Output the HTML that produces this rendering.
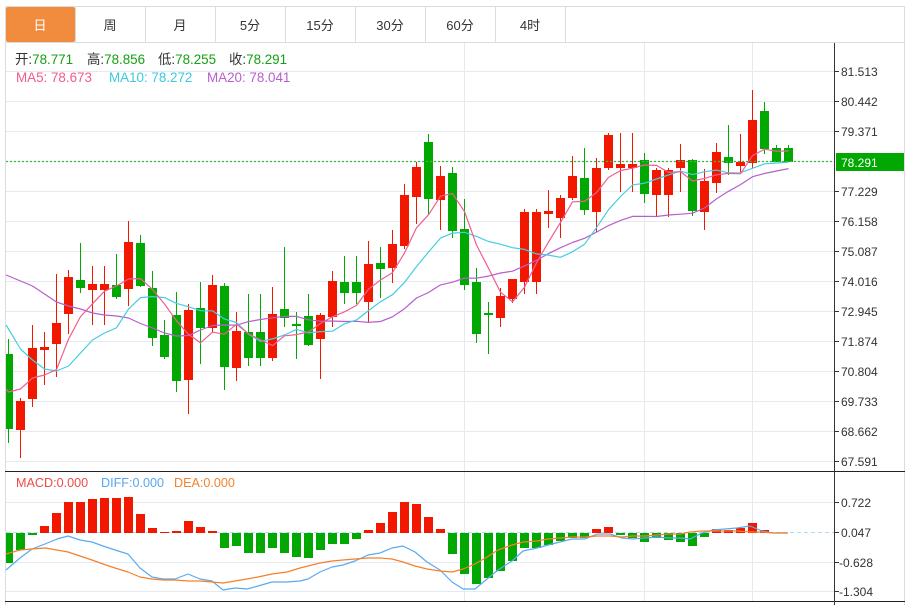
<!DOCTYPE html>
<html><head><meta charset="utf-8"><style>
html,body{margin:0;padding:0;background:#fff;}
svg{display:block;}
text{font-family:"Liberation Sans","Noto Sans CJK SC",sans-serif;}
.r{fill:#f21800;}
.g{fill:#02a802;}
.ax{font-size:12px;fill:#333;}
</style></head><body>
<svg width="910" height="605" viewBox="0 0 910 605" xmlns="http://www.w3.org/2000/svg">
<rect x="0" y="0" width="910" height="605" fill="#fff"/>
<!-- frame -->
<line x1="5" y1="6.5" x2="905" y2="6.5" stroke="#dcdcdc"/>
<line x1="5.5" y1="6" x2="5.5" y2="605" stroke="#dcdcdc"/>
<line x1="904.5" y1="6" x2="904.5" y2="605" stroke="#dcdcdc"/>
<line x1="5" y1="42.5" x2="905" y2="42.5" stroke="#dcdcdc"/>
<!-- tabs -->
<rect x="6" y="7" width="69" height="35" rx="2" fill="#f18c3e"/>
<g stroke="#dcdcdc">
<line x1="75.5" y1="7" x2="75.5" y2="42"/><line x1="145.5" y1="7" x2="145.5" y2="42"/>
<line x1="215.5" y1="7" x2="215.5" y2="42"/><line x1="285.5" y1="7" x2="285.5" y2="42"/>
<line x1="355.5" y1="7" x2="355.5" y2="42"/><line x1="425.5" y1="7" x2="425.5" y2="42"/>
<line x1="495.5" y1="7" x2="495.5" y2="42"/><line x1="565.5" y1="7" x2="565.5" y2="42"/>
</g>
<g font-size="13" text-anchor="middle" fill="#333">
<text x="40" y="30" fill="#fff">日</text>
<text x="110" y="30">周</text>
<text x="180" y="30">月</text>
<text x="250" y="30">5分</text>
<text x="320" y="30">15分</text>
<text x="390" y="30">30分</text>
<text x="460" y="30">60分</text>
<text x="530" y="30">4时</text>
</g>
<!-- grid -->
<g stroke="#e4eaf0" stroke-width="1">
<line x1="6" y1="71.5" x2="834" y2="71.5"/><line x1="6" y1="101.5" x2="834" y2="101.5"/>
<line x1="6" y1="131.5" x2="834" y2="131.5"/><line x1="6" y1="161.5" x2="834" y2="161.5"/>
<line x1="6" y1="191.5" x2="834" y2="191.5"/><line x1="6" y1="221.5" x2="834" y2="221.5"/>
<line x1="6" y1="251.5" x2="834" y2="251.5"/><line x1="6" y1="281.5" x2="834" y2="281.5"/>
<line x1="6" y1="311.5" x2="834" y2="311.5"/><line x1="6" y1="341.5" x2="834" y2="341.5"/>
<line x1="6" y1="371.5" x2="834" y2="371.5"/><line x1="6" y1="401.5" x2="834" y2="401.5"/>
<line x1="6" y1="431.5" x2="834" y2="431.5"/><line x1="6" y1="461.5" x2="834" y2="461.5"/>
<line x1="6" y1="502.5" x2="834" y2="502.5"/><line x1="6" y1="562.5" x2="834" y2="562.5"/>
<line x1="6" y1="591.5" x2="834" y2="591.5"/>
<line x1="464.5" y1="43" x2="464.5" y2="601"/><line x1="644.5" y1="43" x2="644.5" y2="601"/>
<line x1="752.5" y1="43" x2="752.5" y2="601"/>
</g>
<!-- header text -->
<g font-size="13.4">
<text x="15" y="64"><tspan fill="#333">开:</tspan><tspan fill="#14a014">78.771</tspan></text>
<text x="87" y="64"><tspan fill="#333">高:</tspan><tspan fill="#14a014">78.856</tspan></text>
<text x="158" y="64"><tspan fill="#333">低:</tspan><tspan fill="#14a014">78.255</tspan></text>
<text x="229" y="64"><tspan fill="#333">收:</tspan><tspan fill="#14a014">78.291</tspan></text>
<text x="16" y="82" fill="#ef5a8f">MA5: 78.673</text>
<text x="109" y="82" fill="#3cc8de">MA10: 78.272</text>
<text x="207" y="82" fill="#b75fcc">MA20: 78.041</text>
</g>
<!-- candles -->
<g>
<rect class="g" x="8" y="339" width="1" height="104"/><rect class="g" x="6" y="354" width="7" height="75"/>
<rect class="r" x="20" y="398" width="1" height="60"/><rect class="r" x="16" y="401" width="9" height="29"/>
<rect class="r" x="32" y="325" width="1" height="82"/><rect class="r" x="28" y="348" width="9" height="51"/>
<rect class="r" x="44" y="332" width="1" height="53"/><rect class="r" x="40" y="347" width="9" height="3"/>
<rect class="r" x="56" y="274" width="1" height="103"/><rect class="r" x="52" y="323" width="9" height="21"/>
<rect class="r" x="68" y="270" width="1" height="64"/><rect class="r" x="64" y="277" width="9" height="37"/>
<rect class="g" x="80" y="243" width="1" height="50"/><rect class="g" x="76" y="280" width="9" height="8"/>
<rect class="r" x="92" y="266" width="1" height="59"/><rect class="r" x="88" y="284" width="9" height="6"/>
<rect class="r" x="104" y="266" width="1" height="59"/><rect class="r" x="100" y="284" width="9" height="6"/>
<rect class="g" x="116" y="254" width="1" height="45"/><rect class="g" x="112" y="285" width="9" height="12"/>
<rect class="r" x="128" y="221" width="1" height="85"/><rect class="r" x="124" y="242" width="9" height="47"/>
<rect class="g" x="140" y="235" width="1" height="52"/><rect class="g" x="136" y="243" width="9" height="43"/>
<rect class="g" x="152" y="271" width="1" height="75"/><rect class="g" x="148" y="288" width="9" height="50"/>
<rect class="g" x="164" y="320" width="1" height="39"/><rect class="g" x="160" y="335" width="9" height="22"/>
<rect class="g" x="176" y="292" width="1" height="100"/><rect class="g" x="172" y="315" width="9" height="66"/>
<rect class="r" x="188" y="304" width="1" height="110"/><rect class="r" x="184" y="310" width="9" height="70"/>
<rect class="g" x="200" y="282" width="1" height="82"/><rect class="g" x="196" y="308" width="9" height="20"/>
<rect class="r" x="212" y="275" width="1" height="57"/><rect class="r" x="208" y="285" width="9" height="43"/>
<rect class="g" x="224" y="283" width="1" height="107"/><rect class="g" x="220" y="286" width="9" height="81"/>
<rect class="r" x="236" y="312" width="1" height="69"/><rect class="r" x="232" y="331" width="9" height="37"/>
<rect class="g" x="248" y="294" width="1" height="72"/><rect class="g" x="244" y="332" width="9" height="26"/>
<rect class="g" x="260" y="294" width="1" height="72"/><rect class="g" x="256" y="332" width="9" height="26"/>
<rect class="r" x="272" y="287" width="1" height="74"/><rect class="r" x="268" y="314" width="9" height="44"/>
<rect class="g" x="284" y="247" width="1" height="80"/><rect class="g" x="280" y="309" width="9" height="9"/>
<rect class="g" x="296" y="312" width="1" height="47"/><rect class="g" x="292" y="324" width="9" height="2"/>
<rect class="g" x="308" y="294" width="1" height="52"/><rect class="g" x="304" y="316" width="9" height="29"/>
<rect class="r" x="320" y="313" width="1" height="66"/><rect class="r" x="316" y="315" width="9" height="24"/>
<rect class="r" x="332" y="271" width="1" height="56"/><rect class="r" x="328" y="281" width="9" height="36"/>
<rect class="g" x="344" y="256" width="1" height="48"/><rect class="g" x="340" y="282" width="9" height="11"/>
<rect class="g" x="356" y="256" width="1" height="48"/><rect class="g" x="352" y="282" width="9" height="11"/>
<rect class="r" x="368" y="241" width="1" height="81"/><rect class="r" x="364" y="264" width="9" height="38"/>
<rect class="g" x="380" y="247" width="1" height="51"/><rect class="g" x="376" y="263" width="9" height="6"/>
<rect class="r" x="392" y="230" width="1" height="53"/><rect class="r" x="388" y="244" width="9" height="24"/>
<rect class="r" x="404" y="184" width="1" height="65"/><rect class="r" x="400" y="195" width="9" height="51"/>
<rect class="r" x="416" y="162" width="1" height="62"/><rect class="r" x="412" y="167" width="9" height="30"/>
<rect class="g" x="428" y="134" width="1" height="80"/><rect class="g" x="424" y="142" width="9" height="57"/>
<rect class="r" x="440" y="166" width="1" height="64"/><rect class="r" x="436" y="176" width="9" height="24"/>
<rect class="g" x="452" y="167" width="1" height="71"/><rect class="g" x="448" y="173" width="9" height="58"/>
<rect class="g" x="464" y="199" width="1" height="91"/><rect class="g" x="460" y="229" width="9" height="56"/>
<rect class="g" x="476" y="268" width="1" height="75"/><rect class="g" x="472" y="282" width="9" height="52"/>
<rect class="g" x="488" y="302" width="1" height="52"/><rect class="g" x="484" y="313" width="9" height="2"/>
<rect class="r" x="500" y="288" width="1" height="39"/><rect class="r" x="496" y="296" width="9" height="22"/>
<rect class="r" x="512" y="279" width="1" height="24"/><rect class="r" x="508" y="279" width="9" height="20"/>
<rect class="r" x="524" y="209" width="1" height="85"/><rect class="r" x="520" y="212" width="9" height="70"/>
<rect class="r" x="536" y="209" width="1" height="85"/><rect class="r" x="532" y="212" width="9" height="70"/>
<rect class="r" x="548" y="190" width="1" height="38"/><rect class="r" x="544" y="211" width="9" height="3"/>
<rect class="r" x="560" y="195" width="1" height="43"/><rect class="r" x="556" y="198" width="9" height="20"/>
<rect class="r" x="572" y="156" width="1" height="44"/><rect class="r" x="568" y="176" width="9" height="22"/>
<rect class="g" x="584" y="148" width="1" height="67"/><rect class="g" x="580" y="178" width="9" height="32"/>
<rect class="r" x="596" y="158" width="1" height="74"/><rect class="r" x="592" y="168" width="9" height="44"/>
<rect class="r" x="608" y="133" width="1" height="37"/><rect class="r" x="604" y="135" width="9" height="33"/>
<rect class="r" x="620" y="133" width="1" height="59"/><rect class="r" x="616" y="164" width="9" height="4"/>
<rect class="r" x="632" y="133" width="1" height="59"/><rect class="r" x="628" y="164" width="9" height="4"/>
<rect class="g" x="644" y="153" width="1" height="50"/><rect class="g" x="640" y="160" width="9" height="34"/>
<rect class="r" x="656" y="168" width="1" height="48"/><rect class="r" x="652" y="170" width="9" height="25"/>
<rect class="r" x="668" y="168" width="1" height="49"/><rect class="r" x="664" y="170" width="9" height="25"/>
<rect class="r" x="680" y="144" width="1" height="48"/><rect class="r" x="676" y="160" width="9" height="8"/>
<rect class="g" x="692" y="159" width="1" height="57"/><rect class="g" x="688" y="160" width="9" height="51"/>
<rect class="r" x="704" y="169" width="1" height="61"/><rect class="r" x="700" y="181" width="9" height="31"/>
<rect class="r" x="716" y="143" width="1" height="50"/><rect class="r" x="712" y="152" width="9" height="31"/>
<rect class="g" x="728" y="125" width="1" height="50"/><rect class="g" x="724" y="157" width="9" height="6"/>
<rect class="r" x="740" y="134" width="1" height="39"/><rect class="r" x="736" y="162" width="9" height="4"/>
<rect class="r" x="752" y="90" width="1" height="78"/><rect class="r" x="748" y="120" width="9" height="43"/>
<rect class="g" x="764" y="102" width="1" height="52"/><rect class="g" x="760" y="111" width="9" height="38"/>
<rect class="g" x="776" y="145" width="1" height="17"/><rect class="g" x="772" y="148" width="9" height="14"/>
<rect class="g" x="788" y="145" width="1" height="17"/><rect class="g" x="784" y="148" width="9" height="14"/>
</g>
<!-- MA lines -->
<g fill="none" stroke-width="1.2" stroke-linejoin="round">
<polyline stroke="#b75fcc" points="6,275 8.5,276 20.5,281 32.5,286 44.5,294 56.5,302 68.5,306 80.5,309 92.5,313 104.5,315 116.5,316 128.5,318 140.5,323.5 152.5,328 164.5,333 176.5,336 188.5,335.5 200.5,330 212.5,325.5 224.5,325 236.5,325.2 248.5,321.6 260.5,319.5 272.5,317.8 284.5,316.3 296.5,316.4 308.5,319.8 320.5,321.2 332.5,321 344.5,321.5 356.5,321.3 368.5,322.4 380.5,321.5 392.5,316.8 404.5,308.7 416.5,298 428.5,292.5 440.5,284.9 452.5,282.2 464.5,278.1 476.5,278.2 488.5,276.1 500.5,273 512.5,271.2 524.5,265.9 536.5,260.3 548.5,253.6 560.5,247.7 572.5,242.5 584.5,238.3 596.5,232.1 608.5,225.6 620.5,220.4 632.5,216.4 644.5,216.3 656.5,216.5 668.5,215 680.5,214.2 692.5,213.2 704.5,208 716.5,198.9 728.5,191.3 740.5,184.6 752.5,176.7 764.5,173.5 776.5,171 788.5,168.6"/>
<polyline stroke="#45cde2" points="6,325 8.5,329 20.5,349 32.5,360 44.5,369 56.5,371 68.5,366 80.5,353 92.5,340 104.5,333 116.5,327.8 128.5,309.1 140.5,297.6 152.5,296.6 164.5,297.6 176.5,303.4 188.5,306.7 200.5,310.7 212.5,310.8 224.5,319.1 236.5,322.5 248.5,334.1 260.5,341.3 272.5,338.9 284.5,335 296.5,329.4 308.5,332.9 320.5,331.6 332.5,331.2 344.5,323.8 356.5,320 368.5,310.6 380.5,301.7 392.5,294.7 404.5,282.4 416.5,266.6 428.5,252 440.5,238.1 452.5,233.1 464.5,232.3 476.5,236.4 488.5,241.5 500.5,244.2 512.5,247.7 524.5,249.4 536.5,253.9 548.5,255.1 560.5,257.3 572.5,251.8 584.5,244.3 596.5,227.7 608.5,209.7 620.5,196.5 632.5,185 644.5,183.2 656.5,179 668.5,174.9 680.5,171.1 692.5,174.6 704.5,171.7 716.5,170.1 728.5,172.9 740.5,172.7 752.5,168.3 764.5,163.8 776.5,163 788.5,162.2"/>
<polyline stroke="#ef5f92" points="6,389 8.5,392 20.5,389 32.5,378 44.5,375 56.5,369.6 68.5,339.2 80.5,316.6 92.5,303.8 104.5,291.2 116.5,286 128.5,279 140.5,278.6 152.5,289.4 164.5,304 176.5,320.8 188.5,334.4 200.5,342.8 212.5,332.2 224.5,334.2 236.5,324.2 248.5,333.8 260.5,339.8 272.5,345.6 284.5,335.8 296.5,334.6 308.5,332 320.5,323.4 332.5,316.8 344.5,311.8 356.5,305.4 368.5,289.2 380.5,280 392.5,272.6 404.5,253 416.5,227.8 428.5,214.8 440.5,196.2 452.5,193.6 464.5,211.6 476.5,245 488.5,268.2 500.5,292.2 512.5,301.8 524.5,287.2 536.5,262.8 548.5,242 560.5,222.4 572.5,201.8 584.5,201.4 596.5,192.6 608.5,177.4 620.5,170.6 632.5,168.2 644.5,165 656.5,165.4 668.5,172.4 680.5,171.6 692.5,181 704.5,178.4 716.5,174.8 728.5,173.4 740.5,173.8 752.5,155.6 764.5,149.2 776.5,151.2 788.5,151"/>
</g>
<!-- current price dotted -->
<line x1="6" y1="161.5" x2="834" y2="161.5" stroke="#3cb83c" stroke-width="1.3" stroke-dasharray="2,2"/>
<!-- MACD separators -->
<line x1="5" y1="471.5" x2="905" y2="471.5" stroke="#222"/>
<line x1="5" y1="601.5" x2="905" y2="601.5" stroke="#222"/>
<text x="16" y="487" font-size="12.6" fill="#ef4a4a">MACD:0.000</text>
<text x="101" y="487" font-size="12.6" fill="#55a8f0">DIFF:0.000</text>
<text x="174" y="487" font-size="12.6" fill="#f5822a">DEA:0.000</text>
<line x1="6" y1="532.5" x2="834" y2="532.5" stroke="#b3dbee" stroke-dasharray="4,3"/>
<!-- MACD bars -->
<g>
<rect class="g" x="6" y="533" width="7" height="30"/>
<rect class="g" x="16" y="533" width="9" height="17"/>
<rect class="g" x="28" y="533" width="9" height="2"/>
<rect class="r" x="40" y="526" width="9" height="7"/>
<rect class="r" x="52" y="513" width="9" height="20"/>
<rect class="r" x="64" y="502" width="9" height="31"/>
<rect class="r" x="76" y="502" width="9" height="31"/>
<rect class="r" x="88" y="499" width="9" height="34"/>
<rect class="r" x="100" y="498" width="9" height="35"/>
<rect class="r" x="112" y="498" width="9" height="35"/>
<rect class="r" x="124" y="497" width="9" height="36"/>
<rect class="r" x="136" y="514" width="9" height="19"/>
<rect class="r" x="148" y="528" width="9" height="5"/>
<rect class="r" x="160" y="532" width="9" height="1"/>
<rect class="r" x="172" y="531" width="9" height="2"/>
<rect class="r" x="184" y="521" width="9" height="12"/>
<rect class="r" x="196" y="527" width="9" height="6"/>
<rect class="r" x="208" y="531" width="9" height="2"/>
<rect class="g" x="220" y="533" width="9" height="15"/>
<rect class="g" x="232" y="533" width="9" height="13"/>
<rect class="g" x="244" y="533" width="9" height="20"/>
<rect class="g" x="256" y="533" width="9" height="20"/>
<rect class="g" x="268" y="533" width="9" height="15"/>
<rect class="g" x="280" y="533" width="9" height="20"/>
<rect class="g" x="292" y="533" width="9" height="24"/>
<rect class="g" x="304" y="533" width="9" height="25"/>
<rect class="g" x="316" y="533" width="9" height="17"/>
<rect class="g" x="328" y="533" width="9" height="11"/>
<rect class="g" x="340" y="533" width="9" height="11"/>
<rect class="g" x="352" y="533" width="9" height="6"/>
<rect class="r" x="364" y="530" width="9" height="3"/>
<rect class="r" x="376" y="523" width="9" height="10"/>
<rect class="r" x="388" y="512" width="9" height="21"/>
<rect class="r" x="400" y="502" width="9" height="31"/>
<rect class="r" x="412" y="504" width="9" height="29"/>
<rect class="r" x="424" y="517" width="9" height="16"/>
<rect class="r" x="436" y="529" width="9" height="4"/>
<rect class="g" x="448" y="533" width="9" height="21"/>
<rect class="g" x="460" y="533" width="9" height="41"/>
<rect class="g" x="472" y="533" width="9" height="51"/>
<rect class="g" x="484" y="533" width="9" height="45"/>
<rect class="g" x="496" y="533" width="9" height="38"/>
<rect class="g" x="508" y="533" width="9" height="28"/>
<rect class="g" x="520" y="533" width="9" height="15"/>
<rect class="g" x="532" y="533" width="9" height="15"/>
<rect class="g" x="544" y="533" width="9" height="12"/>
<rect class="g" x="556" y="533" width="9" height="8"/>
<rect class="g" x="568" y="533" width="9" height="5"/>
<rect class="g" x="580" y="533" width="9" height="5"/>
<rect class="r" x="592" y="529" width="9" height="4"/>
<rect class="r" x="604" y="527" width="9" height="6"/>
<rect class="g" x="616" y="533" width="9" height="2"/>
<rect class="g" x="628" y="533" width="9" height="5"/>
<rect class="g" x="640" y="533" width="9" height="9"/>
<rect class="g" x="652" y="533" width="9" height="5"/>
<rect class="g" x="664" y="533" width="9" height="7"/>
<rect class="g" x="676" y="533" width="9" height="9"/>
<rect class="g" x="688" y="533" width="9" height="13"/>
<rect class="g" x="700" y="533" width="9" height="4"/>
<rect class="r" x="712" y="529" width="9" height="4"/>
<rect class="r" x="724" y="530" width="9" height="3"/>
<rect class="r" x="736" y="528" width="9" height="5"/>
<rect class="r" x="748" y="523" width="9" height="10"/>
<rect class="r" x="760" y="530" width="9" height="3"/>
</g>
<g fill="none" stroke-width="1.2" stroke-linejoin="round">
<polyline stroke="#5aaaf0" points="6,570 20,558 32,549 45,544 57,539 68,536 80,540 92,542 103,546 115,550 128,554 140,568 152,577 163,579 175,579 188,574 200,579 212,581 223,590 235,588 247,589 258,586 272,582 287,582 300,581 308,579 320,572 332,567 343,565 355,561 368,555 380,553 392,548 403,546 415,552 427,562 440,570 452,582 463,589 475,589 487,579 498,570 512,561 523,551 537,548 548,545 560,542 572,539 585,539 597,534 610,534 622,538 633,539 645,538 657,537 668,538 680,538 690,539 702,533 713,530 725,529 737,528 750,526 762,531 773,533 788,533"/>
<polyline stroke="#f5802a" points="6,554 20,550 32,549 45,548 57,550 68,552 80,556 92,560 103,564 115,568 128,572 140,577 152,579 163,580 175,580 188,581 200,581 212,582 223,583 235,581 247,579 258,577 272,574 287,572 300,568 320,563 332,561 343,560 355,559 368,558 380,558 392,559 403,562 415,566 427,569 440,571 452,572 463,569 475,564 487,557 498,550 512,545 523,542 537,541 548,539 560,538 572,537 585,537 597,536 610,536 622,537 633,536 645,536 657,535 668,534 680,534 690,532 702,531 713,531 725,531 737,531 750,532 762,532 773,533 788,533"/>
</g>
<!-- right axis -->
<line x1="834.5" y1="43" x2="834.5" y2="605" stroke="#333"/>
<g stroke="#333">
<line x1="834" y1="71.5" x2="839" y2="71.5"/><line x1="834" y1="101.5" x2="839" y2="101.5"/>
<line x1="834" y1="131.5" x2="839" y2="131.5"/><line x1="834" y1="191.5" x2="839" y2="191.5"/>
<line x1="834" y1="221.5" x2="839" y2="221.5"/><line x1="834" y1="251.5" x2="839" y2="251.5"/>
<line x1="834" y1="281.5" x2="839" y2="281.5"/><line x1="834" y1="311.5" x2="839" y2="311.5"/>
<line x1="834" y1="341.5" x2="839" y2="341.5"/><line x1="834" y1="371.5" x2="839" y2="371.5"/>
<line x1="834" y1="401.5" x2="839" y2="401.5"/><line x1="834" y1="431.5" x2="839" y2="431.5"/>
<line x1="834" y1="461.5" x2="839" y2="461.5"/>
<line x1="834" y1="502.5" x2="839" y2="502.5"/><line x1="834" y1="532.5" x2="839" y2="532.5"/>
<line x1="834" y1="562.5" x2="839" y2="562.5"/><line x1="834" y1="591.5" x2="839" y2="591.5"/>
</g>
<g class="ax">
<text x="841" y="76">81.513</text>
<text x="841" y="106">80.442</text>
<text x="841" y="136">79.371</text>
<text x="841" y="196">77.229</text>
<text x="841" y="226">76.158</text>
<text x="841" y="256">75.087</text>
<text x="841" y="286">74.016</text>
<text x="841" y="316">72.945</text>
<text x="841" y="346">71.874</text>
<text x="841" y="376">70.804</text>
<text x="841" y="406">69.733</text>
<text x="841" y="436">68.662</text>
<text x="841" y="466">67.591</text>
<text x="841" y="507">0.722</text>
<text x="841" y="537">0.047</text>
<text x="839" y="567">-0.628</text>
<text x="839" y="596">-1.304</text>
</g>
<rect x="836" y="153" width="68" height="18" fill="#02a802"/>
<text x="841" y="167" font-size="12" fill="#fff">78.291</text>
</svg>
</body></html>
